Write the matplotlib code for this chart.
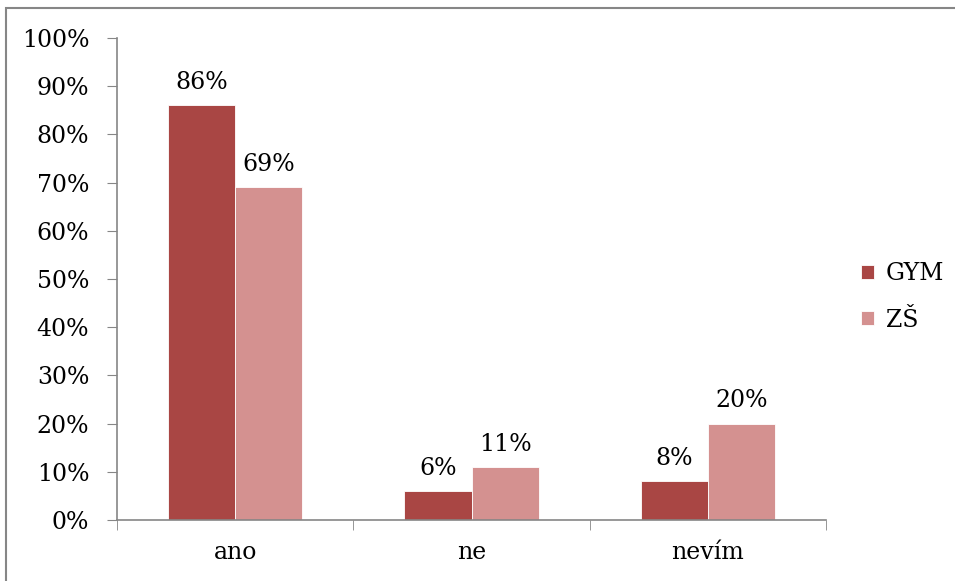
import matplotlib.pyplot as plt
from matplotlib.patches import Rectangle
import numpy as np

# data
categories = ['ano', 'ne', 'nevím']
gym = [86, 6, 8]
zs = [69, 11, 20]
series_names = ['GYM', 'ZŠ']

plt.rcParams['font.family'] = ['DejaVu Serif']
fs = 17

fig = plt.figure(figsize=(9.55, 5.81), dpi=100)
W, H = 955, 581
ax = fig.add_axes([117 / W, 1 - 520 / H, (826 - 117) / W, (520 - 38) / H])

x = np.arange(len(categories))
w = 0.284
b1 = ax.bar(x - w / 2, gym, w, color='#A94644', edgecolor='white', linewidth=0.6, label=series_names[0])
b2 = ax.bar(x + w / 2, zs, w, color='#D49190', edgecolor='white', linewidth=0.6, label=series_names[1])

for bars, vals in ((b1, gym), (b2, zs)):
    for r, v in zip(bars, vals):
        ax.annotate(f'{v}%', (r.get_x() + r.get_width() / 2, v), xytext=(0, 8),
                    textcoords='offset points', ha='center', va='bottom', fontsize=fs)

ax.set_xlim(-0.5, 2.5)
ax.set_ylim(0, 100)
ax.set_yticks(range(0, 101, 10))
ax.set_yticklabels([f'{t}%' for t in range(0, 101, 10)], fontsize=fs)
ax.set_xticks(x)
ax.set_xticklabels(categories, fontsize=fs)
ax.set_xticks([-0.5, 0.5, 1.5, 2.5], minor=True)
ax.tick_params(axis='x', which='major', length=0, pad=15)
ax.tick_params(axis='x', which='minor', length=7, color='#868686', direction='out')
ax.tick_params(axis='y', length=7, color='#868686', direction='out', pad=13)

for s in ['top', 'right']:
    ax.spines[s].set_visible(False)
for s in ['left', 'bottom']:
    ax.spines[s].set_color('#868686')
    ax.spines[s].set_linewidth(1.2)

ax.legend(loc='center left', bbox_to_anchor=(840 / W, 1 - 297 / H), bbox_transform=fig.transFigure,
          frameon=False, fontsize=fs, handlelength=0.55, handleheight=0.55, handletextpad=0.5,
          labelspacing=0.98)

# outer chart border (only left and top visible)
fig.patches.append(Rectangle((6 / W, -0.1), 1.2, 1 - 8 / H + 0.1, transform=fig.transFigure,
                             fill=False, edgecolor='#868686', linewidth=1.5))

fig.savefig('out.png', dpi=100)
